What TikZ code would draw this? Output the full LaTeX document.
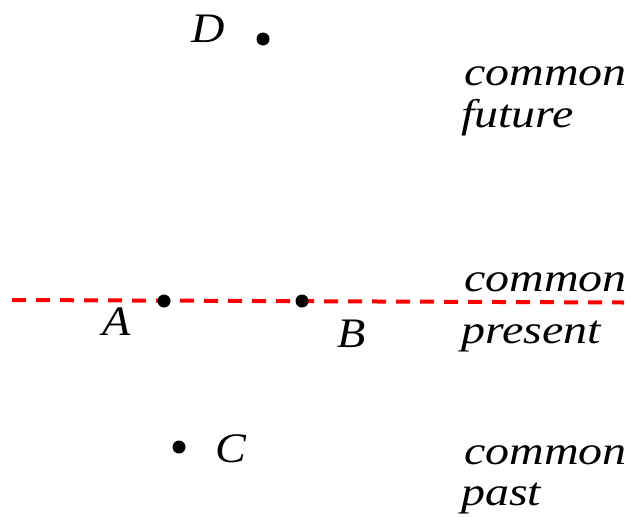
\documentclass[tikz,border=0pt]{standalone}
\usepackage{fontspec}
\setmainfont{Liberation Serif}
\newfontfamily\wideit{Liberation Serif Italic}[FakeStretch=1.2]
\newfontfamily\letit{Liberation Serif Italic}[FakeStretch=1.1]
\begin{document}
\begin{tikzpicture}[x=1pt,y=-1pt,
  dot/.style={circle,fill=black,inner sep=0pt,minimum size=13pt},
  lbl/.style={font=\fontsize{42}{46}\letit,inner sep=0pt,anchor=base},
  side/.style={font=\fontsize{40}{44}\wideit,inner sep=0pt,anchor=base west},
  present/.style={red,line width=4pt,dash pattern=on 14pt off 10pt}]
\useasboundingbox (0,0) rectangle (631,517);
\coordinate (L) at (12,300);
\coordinate (R) at (624,302.5);
\draw[present] (L) -- (R);
\node[dot] (A) at (164,301) {};
\node[dot] (B) at (302,301) {};
\node[dot] (C) at (179,447) {};
\node[dot] (D) at (263,39) {};
\node[lbl] (la) at (117,335) {A};
\node[lbl] (lb) at (352,347) {B};
\node[lbl] (lc) at (231,462) {C};
\node[lbl] (ld) at (208,42) {D};
\node[side] (f1) at (464,85) {common};
\node[side] (f2) at (461,127) {future};
\node[side] (p1) at (464,291) {common};
\node[side] (p2) at (461,343) {present};
\node[side] (q1) at (464,464) {common};
\node[side] (q2) at (461,505) {past};
\end{tikzpicture}
\end{document}
